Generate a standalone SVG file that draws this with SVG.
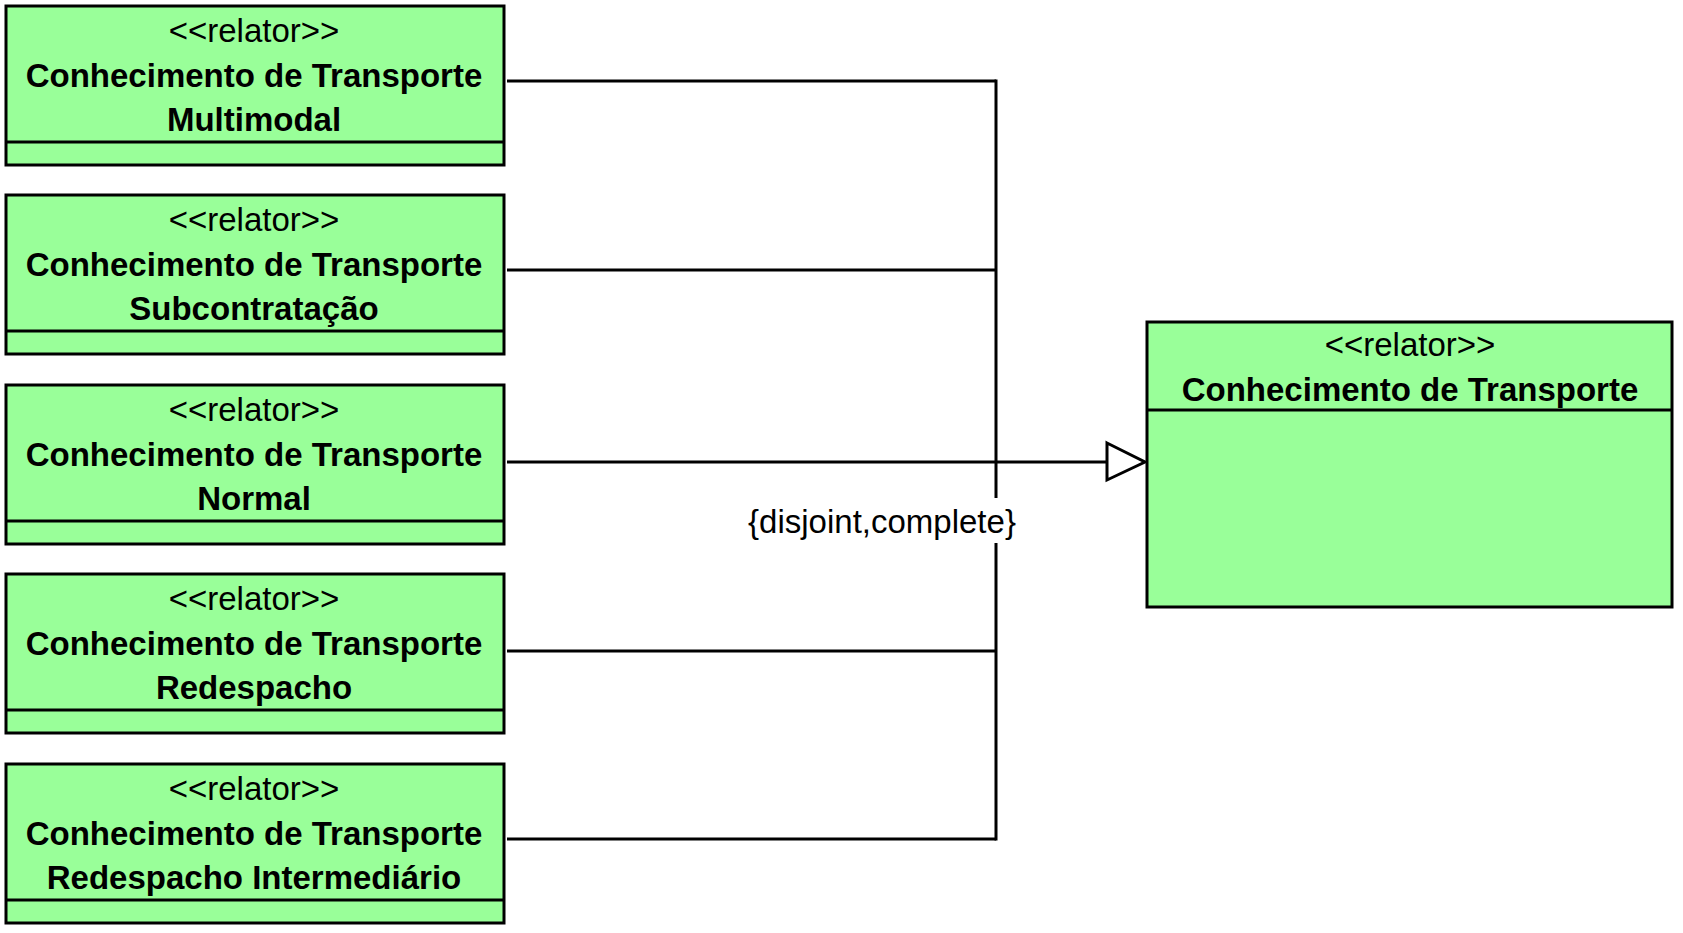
<svg xmlns="http://www.w3.org/2000/svg" width="1683" height="933" viewBox="0 0 1683 933">
<style>
.box{fill:#99FF99;stroke:#000;stroke-width:3}
.div{stroke:#000;stroke-width:3}
.st{font-family:"Liberation Sans",Arial,sans-serif;font-size:33px;text-anchor:middle;fill:#000}
.nm{font-family:"Liberation Sans",Arial,sans-serif;font-size:33px;font-weight:bold;text-anchor:middle;fill:#000}
.ln{stroke:#000;stroke-width:3;fill:none}
.lbl{font-family:"Liberation Sans",Arial,sans-serif;font-size:33px;text-anchor:middle;fill:#000}
</style>
<rect width="1683" height="933" fill="#fff"/>
<g id="connectors">
<line class="ln" x1="507" y1="81" x2="996" y2="81"/>
<line class="ln" x1="507" y1="270" x2="996" y2="270"/>
<line class="ln" x1="507" y1="462" x2="1107" y2="462"/>
<line class="ln" x1="507" y1="651" x2="996" y2="651"/>
<line class="ln" x1="507" y1="839" x2="996" y2="839"/>
<line class="ln" x1="996" y1="79.5" x2="996" y2="498"/>
<line class="ln" x1="996" y1="543" x2="996" y2="840.5"/>
<polygon class="ln" style="fill:#fff" points="1107,443 1145,462 1107,480"/>
<text class="lbl" x="882" y="533">{disjoint,complete}</text>
</g>
<g id="multimodal">
<rect class="box" x="6" y="6" width="498" height="159"/>
<line class="div" x1="6" y1="142" x2="504" y2="142"/>
<text class="st" x="254" y="42">&lt;&lt;relator&gt;&gt;</text>
<text class="nm" x="254" y="87">Conhecimento de Transporte</text>
<text class="nm" x="254" y="131">Multimodal</text>
</g>
<g id="subcontratacao">
<rect class="box" x="6" y="195" width="498" height="159"/>
<line class="div" x1="6" y1="331" x2="504" y2="331"/>
<text class="st" x="254" y="231">&lt;&lt;relator&gt;&gt;</text>
<text class="nm" x="254" y="276">Conhecimento de Transporte</text>
<text class="nm" x="254" y="320">Subcontratação</text>
</g>
<g id="normal">
<rect class="box" x="6" y="385" width="498" height="159"/>
<line class="div" x1="6" y1="521" x2="504" y2="521"/>
<text class="st" x="254" y="421">&lt;&lt;relator&gt;&gt;</text>
<text class="nm" x="254" y="466">Conhecimento de Transporte</text>
<text class="nm" x="254" y="510">Normal</text>
</g>
<g id="redespacho">
<rect class="box" x="6" y="574" width="498" height="159"/>
<line class="div" x1="6" y1="710" x2="504" y2="710"/>
<text class="st" x="254" y="610">&lt;&lt;relator&gt;&gt;</text>
<text class="nm" x="254" y="655">Conhecimento de Transporte</text>
<text class="nm" x="254" y="699">Redespacho</text>
</g>
<g id="redespacho-intermediario">
<rect class="box" x="6" y="764" width="498" height="159"/>
<line class="div" x1="6" y1="900" x2="504" y2="900"/>
<text class="st" x="254" y="800">&lt;&lt;relator&gt;&gt;</text>
<text class="nm" x="254" y="845">Conhecimento de Transporte</text>
<text class="nm" x="254" y="889">Redespacho Intermediário</text>
</g>
<g id="conhecimento-transporte">
<rect class="box" x="1147" y="322" width="525" height="285"/>
<line class="div" x1="1147" y1="410" x2="1672" y2="410"/>
<text class="st" x="1410" y="356">&lt;&lt;relator&gt;&gt;</text>
<text class="nm" x="1410" y="401">Conhecimento de Transporte</text>
</g>
</svg>
